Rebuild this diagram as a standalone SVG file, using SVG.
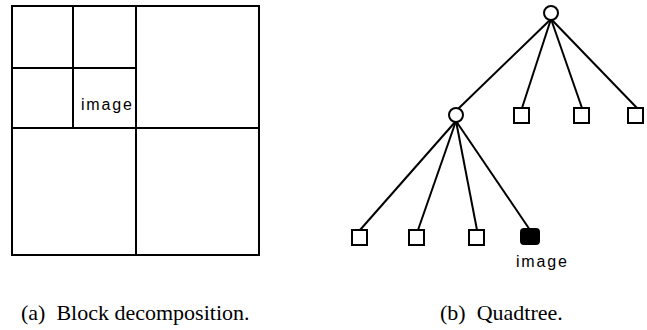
<svg xmlns="http://www.w3.org/2000/svg" width="647" height="330" viewBox="0 0 647 330">
  <style>
    .blk { fill: none; stroke: #000; stroke-width: 2; }
    .edge { stroke: #000; stroke-width: 2; fill: none; }
    .inner { fill: #fff; stroke: #000; stroke-width: 2; }
    .leaf { fill: #fff; stroke: #000; stroke-width: 2; }
    .black { fill: #000; stroke: #000; stroke-width: 2; }
    .lbl { font-family: "Liberation Sans", Arial, sans-serif; font-size: 16px; letter-spacing: 1.8px; fill: #000; }
    .cap { font-family: "Liberation Serif", "Times New Roman", serif; font-size: 22px; fill: #000; }
  </style>
  <rect width="647" height="330" fill="#fff"/>

  <!-- (a) Block decomposition -->
  <g id="block-decomposition">
    <rect class="blk" x="12" y="6" width="247" height="249"/>
    <line class="blk" x1="136" y1="6" x2="136" y2="255"/>
    <line class="blk" x1="12" y1="128" x2="259" y2="128"/>
    <line class="blk" x1="73" y1="6" x2="73" y2="128"/>
    <line class="blk" x1="12" y1="68" x2="136" y2="68"/>
    <text class="lbl" x="81" y="110">image</text>
  </g>

  <!-- (b) Quadtree connectors -->
  <g id="connectors">
    <line class="edge" x1="551" y1="19" x2="458" y2="109"/>
    <line class="edge" x1="551" y1="19" x2="522" y2="108"/>
    <line class="edge" x1="551" y1="19" x2="582" y2="108"/>
    <line class="edge" x1="551" y1="19" x2="637" y2="108"/>
    <line class="edge" x1="456" y1="121" x2="360" y2="230"/>
    <line class="edge" x1="456" y1="121" x2="418" y2="230"/>
    <line class="edge" x1="456" y1="121" x2="477" y2="230"/>
    <line class="edge" x1="456" y1="121" x2="530" y2="230"/>
  </g>

  <!-- (b) Quadtree nodes -->
  <g id="root"><circle class="inner" cx="551" cy="13" r="7"/></g>
  <g id="nw"><circle class="inner" cx="456" cy="115" r="7"/></g>
  <g id="ne"><rect class="leaf" x="514" y="108" width="15" height="15"/></g>
  <g id="sw"><rect class="leaf" x="574" y="108" width="15" height="15"/></g>
  <g id="se"><rect class="leaf" x="628" y="108" width="15" height="15"/></g>
  <g id="nw-nw"><rect class="leaf" x="352" y="230" width="15" height="15"/></g>
  <g id="nw-ne"><rect class="leaf" x="409" y="230" width="15" height="15"/></g>
  <g id="nw-sw"><rect class="leaf" x="469" y="230" width="15" height="15"/></g>
  <g id="nw-se">
    <rect class="black" x="521" y="229" width="18" height="15" rx="3"/>
    <text class="lbl" x="516" y="267">image</text>
  </g>

  <!-- Captions -->
  <text class="cap" x="21" y="320" xml:space="preserve">(a)  Block decomposition.</text>
  <text class="cap" x="440" y="320" xml:space="preserve">(b)  Quadtree.</text>
</svg>
